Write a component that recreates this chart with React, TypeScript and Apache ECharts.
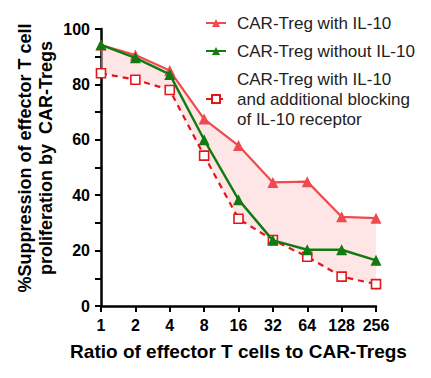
import React, { useEffect, useRef } from "react";
import * as echarts from "echarts";

const categories = ["1", "2", "4", "8", "16", "32", "64", "128", "256"];
const withIL10 = [94.2, 90.6, 85.0, 67.5, 57.9, 44.6, 44.9, 32.2, 31.7];
const withoutIL10 = [94.3, 89.6, 83.6, 60.0, 38.4, 23.7, 20.3, 20.3, 16.5];
const blocked = [84.0, 81.7, 78.0, 54.3, 31.5, 23.8, 17.8, 10.6, 7.9];
const yTicks = [0, 20, 40, 60, 80, 100];

const FONT = "'Liberation Sans', Arial, sans-serif";

export default function App() {
  const ref = useRef<HTMLDivElement>(null);
  useEffect(() => {
    if (!ref.current) return;
    const chart = echarts.init(ref.current, undefined, { renderer: "svg" });
    const band = withIL10.map((v, i) => +(v - blocked[i]).toFixed(2));
    chart.setOption({
      animation: false,
      textStyle: { fontFamily: FONT },
      grid: { left: 101, right: 55, top: 29, bottom: 72 },
      legend: {
        orient: "vertical",
        left: 200,
        top: 8,
        itemWidth: 20,
        itemHeight: 10,
        itemGap: 8,
        data: [
          "CAR-Treg with IL-10",
          "CAR-Treg without IL-10",
          "CAR-Treg with IL-10\nand additional blocking\nof IL-10 receptor",
        ],
        textStyle: { fontFamily: FONT, fontSize: 17, color: "#222", lineHeight: 20, padding: [0, 0, 0, 6] },
      },
      graphic: [
        {
          type: "text",
          x: 35,
          y: 158,
          rotation: Math.PI / 2,
          style: {
            text: "%Suppression of effector T cell\nproliferation by  CAR-Tregs",
            fontFamily: FONT,
            fontSize: 18,
            fontWeight: "bold",
            fill: "#000",
            lineHeight: 21,
            align: "center",
            verticalAlign: "middle",
          },
        },
      ],
      xAxis: {
        type: "category",
        data: categories,
        boundaryGap: false,
        name: "Ratio of effector T cells to CAR-Tregs",
        nameLocation: "middle",
        nameGap: 36,
        nameTextStyle: { fontFamily: FONT, fontSize: 19, fontWeight: "bold", color: "#000" },
        axisLine: { lineStyle: { color: "#000", width: 2.5 } },
        axisTick: { alignWithLabel: true, interval: 0, length: 6, lineStyle: { color: "#000", width: 2 } },
        axisLabel: {
          interval: 0,
          hideOverlap: false,
          fontFamily: FONT,
          fontSize: 16,
          fontWeight: "bold",
          color: "#000",
          margin: 11,
        },
        splitLine: { show: false },
      },
      yAxis: {
        type: "value",
        min: 0,
        max: 100,
        interval: 10,
        axisLine: { show: true, lineStyle: { color: "#000", width: 2.5 } },
        axisTick: { show: true, length: 6, lineStyle: { color: "#000", width: 2 } },
        axisLabel: {
          fontFamily: FONT,
          fontSize: 16,
          fontWeight: "bold",
          color: "#000",
          margin: 11,
          formatter: (v: number) => (yTicks.includes(v) ? String(v) : ""),
        },
        splitLine: { show: false },
      },
      series: [
        {
          name: "bandBase",
          type: "line",
          data: blocked,
          stack: "band",
          symbol: "none",
          lineStyle: { opacity: 0 },
          silent: true,
          z: 1,
        },
        {
          name: "bandFill",
          type: "line",
          data: band,
          stack: "band",
          symbol: "none",
          lineStyle: { opacity: 0 },
          areaStyle: { color: "rgba(252, 200, 200, 0.65)" },
          silent: true,
          z: 1,
        },
        {
          name: "CAR-Treg with IL-10\nand additional blocking\nof IL-10 receptor",
          type: "line",
          data: blocked,
          symbol: "rect",
          symbolSize: 9,
          showAllSymbol: true,
          lineStyle: { color: "#e4161b", width: 2.2, type: [6, 5] },
          itemStyle: { color: "#fff", borderColor: "#e4161b", borderWidth: 1.6 },
          z: 3,
        },
        {
          name: "CAR-Treg without IL-10",
          type: "line",
          data: withoutIL10,
          symbol: "triangle",
          symbolSize: 11,
          lineStyle: { color: "#117a11", width: 2.4 },
          itemStyle: { color: "#117a11" },
          z: 4,
        },
        {
          name: "CAR-Treg with IL-10",
          type: "line",
          data: withIL10,
          symbol: "triangle",
          symbolSize: 11,
          lineStyle: { color: "#ee4b4e", width: 2.2 },
          itemStyle: { color: "#ee4b4e" },
          z: 2,
        },
      ],
    });
    return () => chart.dispose();
  }, []);
  return <div ref={ref} style={{ width: 431, height: 378, margin: -8 }} />;
}
